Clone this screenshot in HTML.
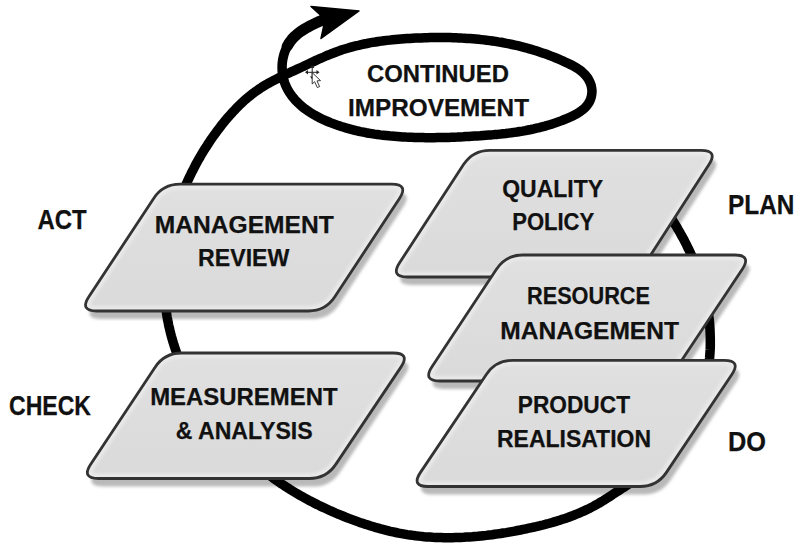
<!DOCTYPE html>
<html><head><meta charset="utf-8"><style>
html,body{margin:0;padding:0;background:#fff;}
body{width:800px;height:550px;overflow:hidden;}
svg{display:block;}
text{font-family:"Liberation Sans",sans-serif;font-weight:bold;fill:#111;stroke:#111;stroke-width:0.25px;}
</style></head><body>
<svg width="800" height="550" viewBox="0 0 800 550">
<defs><filter id="sh" x="-20%" y="-20%" width="140%" height="140%"><feGaussianBlur stdDeviation="1.4"/></filter><filter id="hb" x="-10%" y="-10%" width="120%" height="120%"><feGaussianBlur stdDeviation="1.5"/></filter><linearGradient id="gf" x1="0" y1="0" x2="0" y2="1"><stop offset="0" stop-color="#e0e0e0"/><stop offset="1" stop-color="#dadada"/></linearGradient></defs>
<path d="M157.65,206.4 Q167,192.2 184,192.2 L395.8,192.2 Q412.8,192.2 403.47,206.41 L338.83,304.79 Q329.5,319 312.5,319 L100.5,319 Q83.5,319 92.85,304.8 Z" fill="#b9b9b9" filter="url(#sh)"/>
<path d="M159.11,375.17 Q168.5,361 185.5,361 L397.4,361 Q414.4,361 404.94,375.12 L339.76,472.38 Q330.3,486.5 313.3,486.5 L102.3,486.5 Q85.3,486.5 94.69,472.33 Z" fill="#b9b9b9" filter="url(#sh)"/>
<path d="M467.52,172.55 Q476.8,158.3 493.8,158.3 L705.2,158.3 Q722.2,158.3 712.99,172.59 L649.71,270.71 Q640.5,285 623.5,285 L411.3,285 Q394.3,285 403.58,270.75 Z" fill="#b9b9b9" filter="url(#sh)"/>
<path d="M500.43,277.19 Q509.8,263 526.8,263 L738.7,263 Q755.7,263 746.29,277.16 L681.41,374.84 Q672,389 655,389 L443.6,389 Q426.6,389 435.97,374.81 Z" fill="#b9b9b9" filter="url(#sh)"/>
<path d="M490.32,382.41 Q499.8,368.3 516.8,368.3 L728.3,368.3 Q745.3,368.3 735.86,382.44 L670.44,480.36 Q661,494.5 644,494.5 L432,494.5 Q415,494.5 424.48,480.39 Z" fill="#b9b9b9" filter="url(#sh)"/>
<path d="M627.9,160.1L629.7,162.3L631.5,164.5L633.3,166.7L635.1,168.9L637.0,171.1L638.8,173.3L640.5,175.6L642.3,177.8L644.1,180.1L645.9,182.3L647.6,184.6L649.4,186.9L651.1,189.2L652.8,191.5L654.5,193.8L656.2,196.1L657.9,198.4L659.6,200.8L661.2,203.1L662.9,205.5L664.5,207.8L666.1,210.2L667.7,212.6L669.2,215.0L670.8,217.4L672.3,219.8L673.8,222.2L675.3,224.7L676.8,227.1L678.2,229.6L679.7,232.1L681.0,234.6L682.4,237.0L683.8,239.6L685.1,242.1L686.4,244.6L687.6,247.2L688.9,249.7L690.1,252.3L691.3,254.9L692.4,257.5L693.6,260.1L694.6,262.7L695.7,265.3L696.7,268.0L697.7,270.6L698.7,273.3L699.6,276.0L700.5,278.7L701.4,281.4L702.2,284.1L703.0,286.8L703.7,289.6L704.4,292.4L705.1,295.1L705.7,297.9L706.3,300.7L706.8,303.6L707.4,306.4L707.8,309.2L708.3,312.1L708.6,314.9L709.0,317.8L709.3,320.6L709.6,323.5L709.8,326.4L710.0,329.3L710.1,332.2L710.2,335.1L710.3,338.0L710.3,340.8L710.3,343.7L710.3,346.6L710.2,349.5L710.0,352.4L709.8,355.3L709.6,358.2L709.3,361.1L709.0,363.9L708.6,366.8L708.2,369.7L707.8,372.5L707.3,375.4L706.8,378.2L706.2,381.0L705.6,383.8L704.9,386.6L704.2,389.4L703.4,392.2L702.6,395.0L701.8,397.7L700.9,400.4L699.9,403.1L698.9,405.8L697.9,408.4L696.8,411.1L695.7,413.7L694.5,416.3L693.3,418.8L692.0,421.4L690.7,423.9L689.3,426.4L687.9,428.8L686.5,431.3L684.9,433.6L683.4,436.0L681.8,438.3L680.1,440.6L678.4,442.9L676.6,445.1L674.8,447.3L673.0,449.5L671.1,451.6L669.1,453.6L667.1,455.7L665.0,457.6L662.9,459.6L660.7,461.5L658.5,463.4L656.3,465.2L654.0,467.0L651.6,468.7L649.3,470.4L646.9,472.1L644.5,473.8L642.0,475.4L639.6,477.1L637.1,478.7L634.7,480.3L632.2,481.8L629.8,483.4L627.3,485.0L624.9,486.6L622.4,488.1L620.0,489.7L617.7,491.3L615.3,492.8L612.9,494.4L610.6,495.9L608.2,497.5L605.8,499.0L603.5,500.5L601.1,501.9L598.7,503.4L596.2,504.7L593.8,506.1L591.3,507.4L588.8,508.7L586.2,509.9L583.7,511.1L581.1,512.2L578.5,513.4L575.9,514.4L573.2,515.5L570.5,516.5L567.9,517.5L565.2,518.4L562.4,519.3L559.7,520.2L556.9,521.1L554.2,521.9L551.4,522.7L548.6,523.5L545.8,524.2L543.0,525.0L540.2,525.7L537.4,526.3L534.6,527.0L531.7,527.6L528.9,528.2L526.1,528.8L523.2,529.4L520.4,530.0L517.5,530.5L514.7,531.1L511.9,531.6L509.0,532.1L506.2,532.6L503.3,533.0L500.5,533.5L497.7,533.9L494.8,534.3L492.0,534.7L489.2,535.0L486.3,535.4L483.5,535.7L480.7,536.0L477.8,536.3L475.0,536.5L472.2,536.8L469.3,537.0L466.5,537.1L463.7,537.3L460.8,537.4L458.0,537.5L455.2,537.6L452.4,537.7L449.5,537.7L446.7,537.7L443.9,537.7L441.0,537.6L438.2,537.5L435.4,537.4L432.6,537.3L429.8,537.1L426.9,536.9L424.1,536.7L421.3,536.4L418.5,536.1L415.6,535.8L412.8,535.4L410.0,535.0L407.2,534.6L404.4,534.1L401.6,533.6L398.7,533.1L395.9,532.5L393.1,531.9L390.3,531.3L387.5,530.6L384.7,529.9L381.9,529.2L379.1,528.4L376.3,527.7L373.5,526.8L370.8,526.0L368.0,525.1L365.2,524.2L362.5,523.3L359.7,522.4L357.0,521.4L354.3,520.4L351.5,519.4L348.8,518.4L346.1,517.3L343.5,516.3L340.8,515.2L338.1,514.1L335.5,513.0L332.9,511.8L330.3,510.7L327.7,509.5L325.1,508.3L322.5,507.1L319.9,505.9L317.4,504.6L314.9,503.4L312.3,502.1L309.8,500.8L307.3,499.4L304.9,498.1L302.4,496.7L299.9,495.3L297.5,493.9L295.1,492.5L292.6,491.0L290.2,489.5L287.9,488.0L285.5,486.5L283.1,484.9L280.8,483.4L278.4,481.7L276.1,480.1L273.8,478.5L271.5,476.8L269.2,475.1L266.9,473.3L264.7,471.6L262.4,469.8L260.2,468.0L258.0,466.2L255.8,464.3L253.6,462.4L251.4,460.5L249.3,458.6L247.2,456.6L245.0,454.7L243.0,452.7L240.9,450.7L238.8,448.6L236.8,446.6L234.8,444.5L232.8,442.4L230.8,440.3L228.8,438.1L226.9,436.0L225.0,433.8L223.1,431.6L221.2,429.4L219.4,427.1L217.5,424.9L215.7,422.6L214.0,420.3L212.2,418.0L210.5,415.7L208.8,413.3L207.1,411.0L205.5,408.6L203.8,406.2L202.2,403.8L200.7,401.4L199.1,398.9L197.6,396.5L196.1,394.0L194.7,391.5L193.2,389.0L191.8,386.5L190.5,384.0L189.1,381.4L187.8,378.9L186.6,376.3L185.3,373.7L184.1,371.1L182.9,368.5L181.8,365.9L180.7,363.2L179.6,360.6L178.5,357.9L177.5,355.3L176.5,352.6L175.6,349.9L174.7,347.2L173.8,344.5L173.0,341.8L172.2,339.1L171.4,336.3L170.7,333.6L170.0,330.8L169.4,328.1L168.7,325.3L168.2,322.5L167.6,319.8L167.1,317.0L166.7,314.2L166.3,311.4L165.9,308.6L165.6,305.7L165.3,302.9L165.0,300.1L164.8,297.3L164.7,294.4L164.5,291.6L164.4,288.7L164.4,285.9L164.4,283.1L164.4,280.2L164.5,277.4L164.6,274.5L164.7,271.6L164.9,268.8L165.1,265.9L165.3,263.1L165.6,260.2L165.9,257.4L166.3,254.5L166.7,251.7L167.1,248.8L167.6,246.0L168.0,243.2L168.6,240.3L169.1,237.5L169.7,234.7L170.4,231.9L171.0,229.0L171.7,226.2L172.4,223.4L173.2,220.6L174.0,217.8L174.8,215.1L175.6,212.3L176.5,209.5L177.4,206.8L178.4,204.0L179.4,201.3L180.4,198.6L181.4,195.9L182.4,193.2L183.5,190.5L184.7,187.8L185.8,185.1L187.0,182.5L188.2,179.8L189.4,177.2L190.7,174.6L191.9,172.0L193.3,169.4L194.6,166.8L195.9,164.3L197.3,161.7L198.7,159.2L200.2,156.7L201.6,154.2L203.1,151.8L204.6,149.3L206.2,146.9L207.7,144.5L209.3,142.1L210.9,139.7L212.5,137.4L214.2,135.0L215.9,132.7L217.5,130.4L219.3,128.2L221.0,125.9L222.7,123.7L224.5,121.5L226.3,119.3L228.1,117.2L230.0,115.1L231.9,113.0L233.8,110.9L235.7,108.9L237.7,106.9L239.7,104.9L241.7,103.0L243.7,101.1L245.8,99.2L248.0,97.4L250.1,95.7L252.3,93.9L254.6,92.2L256.9,90.6L259.2,89.0L261.6,87.4L264.0,85.9L266.5,84.4L269.0,83.0L271.5,81.6L274.1,80.2L276.7,78.9L279.3,77.6L281.9,76.3L284.6,75.0L287.2,73.8L289.9,72.6L292.5,71.3L295.2,70.1L297.8,68.9L300.4,67.7L303.1,66.5L305.7,65.2L308.3,64.0L310.9,62.8L313.5,61.6L316.0,60.4L318.6,59.2L321.2,58.1L323.8,57.0L326.4,55.8L329.0,54.8L331.6,53.7L334.2,52.7L336.8,51.7L339.5,50.8L342.1,49.8L344.8,49.0L347.5,48.2L350.2,47.4L353.0,46.6L355.7,45.9L358.5,45.3L361.3,44.6L364.1,44.0L366.9,43.5L369.7,42.9L372.5,42.4L375.4,42.0L378.2,41.5L381.1,41.1L383.9,40.7L386.8,40.4L389.7,40.1L392.5,39.8L395.4,39.5L398.3,39.2L401.2,39.0L404.1,38.8L407.0,38.6L409.9,38.4L412.8,38.2L415.7,38.1L418.6,38.0L421.5,37.9L424.3,37.8L427.2,37.7L430.1,37.6L433.0,37.6L435.8,37.5L438.7,37.5L441.6,37.5L444.4,37.5L447.3,37.6L450.1,37.6L453.0,37.7L455.8,37.8L458.7,37.9L461.5,38.1L464.3,38.2L467.2,38.4L470.0,38.6L472.8,38.8L475.7,39.0L478.5,39.3L481.3,39.6L484.1,39.9L486.9,40.3L489.7,40.6L492.5,41.0L495.3,41.4L498.1,41.9L500.9,42.3L503.7,42.8L506.5,43.4L509.3,43.9L512.0,44.5L514.8,45.1L517.6,45.7L520.4,46.4L523.1,47.1L525.9,47.8L528.6,48.6L531.4,49.4L534.2,50.2L536.9,51.1L539.6,52.0L542.4,52.9L545.1,53.8L547.9,54.8L550.6,55.9L553.3,56.9L556.0,58.0L558.8,59.2L561.5,60.3L564.2,61.6L566.9,62.8L569.6,64.1L572.3,65.4L574.9,66.9L577.4,68.4L579.8,70.0L582.0,71.8L584.1,73.7L586.0,75.8L587.7,78.0L589.1,80.4L590.3,83.0L591.2,85.6L591.7,88.3L592.0,91.0L591.8,93.7L591.4,96.4L590.6,99.0L589.6,101.5L588.2,103.8L586.6,106.0L584.7,108.0L582.6,109.8L580.3,111.5L577.9,113.1L575.3,114.6L572.7,115.9L569.9,117.2L567.2,118.4L564.4,119.5L561.7,120.6L558.9,121.6L556.1,122.6L553.3,123.6L550.6,124.5L547.8,125.3L545.0,126.1L542.2,126.8L539.4,127.6L536.6,128.2L533.8,128.9L531.0,129.5L528.2,130.0L525.4,130.6L522.6,131.1L519.8,131.5L517.0,132.0L514.2,132.4L511.4,132.8L508.5,133.1L505.7,133.5L502.9,133.8L500.1,134.1L497.2,134.4L494.4,134.6L491.6,134.9L488.7,135.1L485.9,135.3L483.0,135.5L480.2,135.8L477.3,135.9L474.5,136.1L471.6,136.3L468.8,136.5L465.9,136.6L463.1,136.8L460.2,136.9L457.3,137.1L454.5,137.2L451.6,137.3L448.8,137.4L445.9,137.5L443.0,137.5L440.2,137.6L437.3,137.6L434.4,137.7L431.6,137.7L428.7,137.7L425.8,137.7L423.0,137.6L420.1,137.6L417.2,137.5L414.4,137.4L411.5,137.3L408.7,137.2L405.8,137.1L402.9,136.9L400.1,136.7L397.2,136.5L394.4,136.3L391.5,136.1L388.7,135.8L385.9,135.5L383.0,135.2L380.2,134.9L377.4,134.5L374.5,134.1L371.7,133.6L368.9,133.2L366.1,132.7L363.3,132.1L360.5,131.6L357.7,131.0L355.0,130.3L352.2,129.6L349.4,128.9L346.7,128.2L344.0,127.3L341.2,126.5L338.5,125.6L335.8,124.6L333.1,123.6L330.4,122.6L327.7,121.5L325.1,120.4L322.5,119.2L319.9,117.9L317.3,116.6L314.8,115.2L312.3,113.7L309.8,112.2L307.5,110.6L305.1,108.9L302.9,107.2L300.7,105.4L298.6,103.4L296.6,101.4L294.7,99.4L292.8,97.2L291.1,94.9L289.5,92.6L288.0,90.1L286.7,87.6L285.5,85.0L284.5,82.4L283.7,79.6L283.0,76.9L282.5,74.0L282.2,71.2L282.1,68.3L282.1,65.5L282.3,62.6L282.7,59.8L283.3,57.0L284.0,54.2L284.9,51.5L286.0,48.9L287.2,46.3L288.6,43.9L290.2,41.5L291.9,39.3L293.8,37.2L295.9,35.3L298.1,33.4L300.4,31.7L302.8,30.1L305.3,28.5L307.9,27.1L310.5,25.7L313.1,24.4L315.7,23.1L318.3,21.9L320.9,20.8L323.5,19.6L325.9,18.5" fill="none" stroke="#000" stroke-width="9.5" stroke-linecap="round" stroke-linejoin="round"/>
<path d="M287.2,46.3L288.6,43.9L290.2,41.5L291.9,39.3L293.8,37.2L295.9,35.3L298.1,33.4L300.4,31.7L302.8,30.1L305.3,28.5L307.9,27.1L310.5,25.7L313.1,24.4L315.7,23.1L318.3,21.9L320.9,20.8L323.5,19.6L325.9,18.5" fill="none" stroke="#000" stroke-width="11" stroke-linecap="round" stroke-linejoin="round"/>
<polygon points="311,6.5 359,11 321,38.5 323.5,27 322,16.5" fill="#000" stroke="#000" stroke-width="1.5" stroke-linejoin="round"/>
<g stroke="#222" stroke-width="1" fill="#222"><path d="M306.5,72.3 H318 M312.2,66.5 V78" fill="none"/><path d="M305,72.3 l3,-2.2 v4.4z M319.5,72.3 l-3,-2.2 v4.4z M312.2,65 l-2.2,3 h4.4z M312.2,79.5 l-2.2,-3 h4.4z" stroke="none"/><path d="M312.2,72.6 L312.2,84 L314.6,81.7 L317.3,87.5 L319.6,86.6 L317,80.9 L320.5,80.6 Z" fill="#fff" stroke="#222" stroke-width="0.9"/></g>
<clipPath id="cMR"><path d="M153.65,198.4 Q163,184.2 180,184.2 L391.8,184.2 Q408.8,184.2 399.47,198.41 L334.83,296.79 Q325.5,311 308.5,311 L96.5,311 Q79.5,311 88.85,296.8 Z"/></clipPath>
<path d="M153.65,198.4 Q163,184.2 180,184.2 L391.8,184.2 Q408.8,184.2 399.47,198.41 L334.83,296.79 Q325.5,311 308.5,311 L96.5,311 Q79.5,311 88.85,296.8 Z" fill="url(#gf)"/>
<g clip-path="url(#cMR)"><path d="M153.65,198.4 Q163,184.2 180,184.2 L391.8,184.2 Q408.8,184.2 399.47,198.41 L334.83,296.79 Q325.5,311 308.5,311 L96.5,311 Q79.5,311 88.85,296.8 Z" fill="none" stroke="#e9e9e9" stroke-width="10" filter="url(#hb)"/></g>
<path d="M153.65,198.4 Q163,184.2 180,184.2 L391.8,184.2 Q408.8,184.2 399.47,198.41 L334.83,296.79 Q325.5,311 308.5,311 L96.5,311 Q79.5,311 88.85,296.8 Z" fill="none" stroke="#333" stroke-width="2.8"/>
<clipPath id="cMA"><path d="M155.11,367.17 Q164.5,353 181.5,353 L393.4,353 Q410.4,353 400.94,367.12 L335.76,464.38 Q326.3,478.5 309.3,478.5 L98.3,478.5 Q81.3,478.5 90.69,464.33 Z"/></clipPath>
<path d="M155.11,367.17 Q164.5,353 181.5,353 L393.4,353 Q410.4,353 400.94,367.12 L335.76,464.38 Q326.3,478.5 309.3,478.5 L98.3,478.5 Q81.3,478.5 90.69,464.33 Z" fill="url(#gf)"/>
<g clip-path="url(#cMA)"><path d="M155.11,367.17 Q164.5,353 181.5,353 L393.4,353 Q410.4,353 400.94,367.12 L335.76,464.38 Q326.3,478.5 309.3,478.5 L98.3,478.5 Q81.3,478.5 90.69,464.33 Z" fill="none" stroke="#e9e9e9" stroke-width="10" filter="url(#hb)"/></g>
<path d="M155.11,367.17 Q164.5,353 181.5,353 L393.4,353 Q410.4,353 400.94,367.12 L335.76,464.38 Q326.3,478.5 309.3,478.5 L98.3,478.5 Q81.3,478.5 90.69,464.33 Z" fill="none" stroke="#333" stroke-width="2.8"/>
<clipPath id="cQP"><path d="M463.52,164.55 Q472.8,150.3 489.8,150.3 L701.2,150.3 Q718.2,150.3 708.99,164.59 L645.71,262.71 Q636.5,277 619.5,277 L407.3,277 Q390.3,277 399.58,262.75 Z"/></clipPath>
<path d="M463.52,164.55 Q472.8,150.3 489.8,150.3 L701.2,150.3 Q718.2,150.3 708.99,164.59 L645.71,262.71 Q636.5,277 619.5,277 L407.3,277 Q390.3,277 399.58,262.75 Z" fill="url(#gf)"/>
<g clip-path="url(#cQP)"><path d="M463.52,164.55 Q472.8,150.3 489.8,150.3 L701.2,150.3 Q718.2,150.3 708.99,164.59 L645.71,262.71 Q636.5,277 619.5,277 L407.3,277 Q390.3,277 399.58,262.75 Z" fill="none" stroke="#e9e9e9" stroke-width="10" filter="url(#hb)"/></g>
<path d="M463.52,164.55 Q472.8,150.3 489.8,150.3 L701.2,150.3 Q718.2,150.3 708.99,164.59 L645.71,262.71 Q636.5,277 619.5,277 L407.3,277 Q390.3,277 399.58,262.75 Z" fill="none" stroke="#333" stroke-width="2.8"/>
<clipPath id="cRM"><path d="M496.43,269.19 Q505.8,255 522.8,255 L734.7,255 Q751.7,255 742.29,269.16 L677.41,366.84 Q668,381 651,381 L439.6,381 Q422.6,381 431.97,366.81 Z"/></clipPath>
<path d="M496.43,269.19 Q505.8,255 522.8,255 L734.7,255 Q751.7,255 742.29,269.16 L677.41,366.84 Q668,381 651,381 L439.6,381 Q422.6,381 431.97,366.81 Z" fill="url(#gf)"/>
<g clip-path="url(#cRM)"><path d="M496.43,269.19 Q505.8,255 522.8,255 L734.7,255 Q751.7,255 742.29,269.16 L677.41,366.84 Q668,381 651,381 L439.6,381 Q422.6,381 431.97,366.81 Z" fill="none" stroke="#e9e9e9" stroke-width="10" filter="url(#hb)"/></g>
<path d="M496.43,269.19 Q505.8,255 522.8,255 L734.7,255 Q751.7,255 742.29,269.16 L677.41,366.84 Q668,381 651,381 L439.6,381 Q422.6,381 431.97,366.81 Z" fill="none" stroke="#333" stroke-width="2.8"/>
<clipPath id="cPR"><path d="M486.32,374.41 Q495.8,360.3 512.8,360.3 L724.3,360.3 Q741.3,360.3 731.86,374.44 L666.44,472.36 Q657,486.5 640,486.5 L428,486.5 Q411,486.5 420.48,472.39 Z"/></clipPath>
<path d="M486.32,374.41 Q495.8,360.3 512.8,360.3 L724.3,360.3 Q741.3,360.3 731.86,374.44 L666.44,472.36 Q657,486.5 640,486.5 L428,486.5 Q411,486.5 420.48,472.39 Z" fill="url(#gf)"/>
<g clip-path="url(#cPR)"><path d="M486.32,374.41 Q495.8,360.3 512.8,360.3 L724.3,360.3 Q741.3,360.3 731.86,374.44 L666.44,472.36 Q657,486.5 640,486.5 L428,486.5 Q411,486.5 420.48,472.39 Z" fill="none" stroke="#e9e9e9" stroke-width="10" filter="url(#hb)"/></g>
<path d="M486.32,374.41 Q495.8,360.3 512.8,360.3 L724.3,360.3 Q741.3,360.3 731.86,374.44 L666.44,472.36 Q657,486.5 640,486.5 L428,486.5 Q411,486.5 420.48,472.39 Z" fill="none" stroke="#333" stroke-width="2.8"/>
<text x="154.8" y="232.8" font-size="24" textLength="179" lengthAdjust="spacingAndGlyphs">MANAGEMENT</text>
<text x="198" y="266.4" font-size="24" textLength="91.4" lengthAdjust="spacingAndGlyphs">REVIEW</text>
<text x="150.2" y="405.4" font-size="24" textLength="187.4" lengthAdjust="spacingAndGlyphs">MEASUREMENT</text>
<text x="175.8" y="438.8" font-size="24" textLength="136.8" lengthAdjust="spacingAndGlyphs">&amp; ANALYSIS</text>
<text x="502.2" y="197.1" font-size="24" textLength="100.8" lengthAdjust="spacingAndGlyphs">QUALITY</text>
<text x="512.2" y="230.4" font-size="24" textLength="82" lengthAdjust="spacingAndGlyphs">POLICY</text>
<text x="527" y="304.4" font-size="24" textLength="123" lengthAdjust="spacingAndGlyphs">RESOURCE</text>
<text x="500.2" y="338.8" font-size="24" textLength="178.8" lengthAdjust="spacingAndGlyphs">MANAGEMENT</text>
<text x="517.8" y="413" font-size="24" textLength="112.2" lengthAdjust="spacingAndGlyphs">PRODUCT</text>
<text x="497" y="447" font-size="24" textLength="154" lengthAdjust="spacingAndGlyphs">REALISATION</text>
<text x="367" y="82" font-size="24" textLength="142" lengthAdjust="spacingAndGlyphs">CONTINUED</text>
<text x="348" y="115.5" font-size="24" textLength="181" lengthAdjust="spacingAndGlyphs">IMPROVEMENT</text>
<text x="37.4" y="228.5" font-size="28" textLength="49.2" lengthAdjust="spacingAndGlyphs">ACT</text>
<text x="9" y="415.25" font-size="28" textLength="82" lengthAdjust="spacingAndGlyphs">CHECK</text>
<text x="728" y="213.75" font-size="28" textLength="66.4" lengthAdjust="spacingAndGlyphs">PLAN</text>
<text x="728" y="451" font-size="28" textLength="38" lengthAdjust="spacingAndGlyphs">DO</text>
</svg>
</body></html>
